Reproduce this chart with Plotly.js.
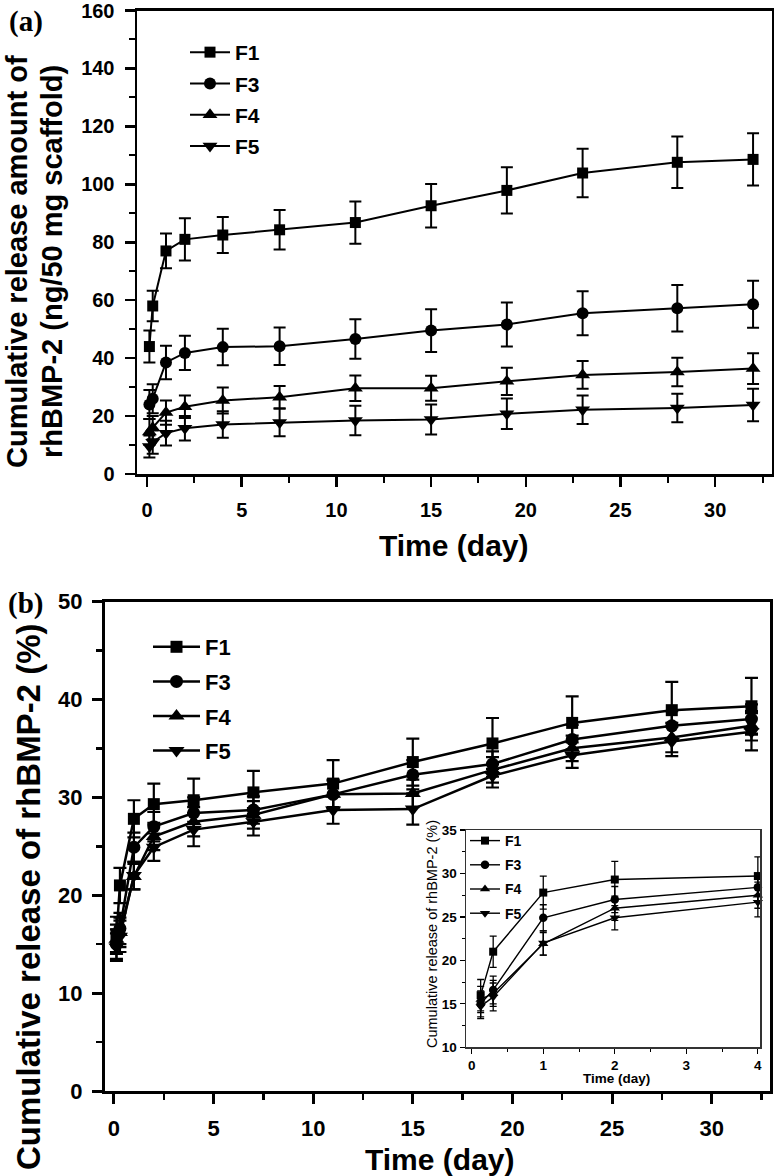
<!DOCTYPE html>
<html>
<head>
<meta charset="utf-8">
<script src="https://cdn.plot.ly/plotly-3.0.1.min.js"></script>
<style>html,body{margin:0;padding:0;background:#fff;}#chart{width:774px;height:1176px;}</style>
</head>
<body>
<div id="chart"></div>
<script>
// ---- data ----
const days = [0.125, 0.3, 1, 2, 4, 7, 11, 15, 19, 23, 28, 32];
const seriesNames = ["F1", "F3", "F4", "F5"];

// (a) cumulative release amount (ng/50 mg scaffold)
const F1_amount = [44, 58, 77, 81, 82.5, 84.3, 86.8, 92.6, 97.9, 103.9, 107.6, 108.6];
const F1_amount_err = [5.5, 5.3, 6, 7.3, 6.2, 6.8, 7.3, 7.5, 8, 8.4, 8.9, 9];
const F3_amount = [24, 26, 38.5, 41.8, 43.8, 44.1, 46.6, 49.5, 51.6, 55.5, 57.2, 58.6];
const F3_amount_err = [5, 5, 5.8, 5.9, 6.3, 6.5, 6.8, 7.4, 7.6, 7.6, 8, 8.1];
const F4_amount = [14.5, 16, 21.2, 23.2, 25.4, 26.5, 29.6, 29.6, 32, 34.2, 35.2, 36.4];
const F4_amount_err = [4.5, 4, 4.2, 3.9, 4.5, 3.9, 4.4, 4.3, 4.7, 4.8, 4.9, 5.3];
const F5_amount = [9.5, 11, 14.1, 15.8, 17.1, 17.8, 18.5, 18.8, 20.8, 22.2, 22.8, 23.8];
const F5_amount_err = [3.8, 4, 4.3, 4.2, 4.6, 4.8, 5.1, 5.2, 5.3, 4.9, 4.9, 5.6];

// (b) cumulative release (%)
const F1_pct = [16.0, 21.0, 27.8, 29.3, 29.7, 30.5, 31.4, 33.6, 35.5, 37.6, 38.9, 39.3];
const F1_pct_err = [1.8, 1.8, 1.9, 2.1, 2.2, 2.2, 2.4, 2.4, 2.6, 2.7, 2.9, 2.9];
const F3_pct = [15.0, 16.6, 24.9, 27.0, 28.4, 28.7, 30.3, 32.3, 33.4, 35.9, 37.3, 38.0];
const F3_pct_err = [1.5, 1.6, 1.5, 1.5, 1.6, 1.4, 1.5, 1.5, 1.3, 1.5, 1.5, 1.5];
const F4_pct = [15.5, 16.2, 21.9, 26.0, 27.5, 28.2, 30.3, 30.4, 32.8, 35.0, 36.1, 37.3];
const F4_pct_err = [1.5, 1.5, 1.3, 1.4, 1.5, 1.4, 1.4, 1.4, 1.3, 1.3, 1.5, 1.5];
const F5_pct = [14.7, 15.8, 22.0, 24.9, 26.7, 27.5, 28.7, 28.8, 32.2, 34.3, 35.7, 36.7];
const F5_pct_err = [1.4, 1.6, 1.4, 1.4, 1.7, 1.4, 1.4, 1.6, 1.2, 1.3, 1.5, 1.9];

// inset shows the first days (0 - 4 day)
const insetCount = 5;

// ---- styling helpers ----
const W = 774, H = 1176;
const px = v => v / W;
const py = v => 1 - v / H;
const FONT = "Liberation Sans, Arial, sans-serif";
const SERIF = "Liberation Serif, Times New Roman, serif";
const symbols = ["square", "circle", "triangle-up", "triangle-down"];

function trace(x, y, err, i, xa, ya, leg, st) {
  return {
    type: "scatter", mode: "lines+markers",
    x: x, y: y, name: seriesNames[i],
    xaxis: xa, yaxis: ya, legend: leg, legendgroup: leg + i,
    line: {color: "#000", width: st.lw},
    marker: {symbol: symbols[i], color: "#000", size: st.ms[i], line: {width: 0}},
    error_y: {type: "data", array: err, visible: true, color: "#000", thickness: st.et, width: st.ew},
    cliponaxis: false
  };
}

const amounts = [F1_amount, F3_amount, F4_amount, F5_amount];
const amountErr = [F1_amount_err, F3_amount_err, F4_amount_err, F5_amount_err];
const pcts = [F1_pct, F3_pct, F4_pct, F5_pct];
const pctErr = [F1_pct_err, F3_pct_err, F4_pct_err, F5_pct_err];

const stA = {lw: 2, ms: [11, 12, 13, 13], et: 2, ew: 6};
const stB = {lw: 2.5, ms: [12, 13, 14, 14], et: 2.2, ew: 6.5};
const stI = {lw: 1.4, ms: [8, 8.5, 9, 9], et: 1.3, ew: 3.5};

const data = [];
for (let i = 0; i < 4; i++) data.push(trace(days, amounts[i], amountErr[i], i, "x", "y", "legend", stA));
for (let i = 0; i < 4; i++) data.push(trace(days, pcts[i], pctErr[i], i, "x2", "y2", "legend2", stB));
for (let i = 0; i < 4; i++) data.push(trace(days.slice(0, insetCount), pcts[i].slice(0, insetCount),
  pctErr[i].slice(0, insetCount), i, "x3", "y3", "legend3", stI));

function axis(o) {
  return Object.assign({
    showgrid: false, zeroline: false, showline: true, linecolor: "#000", mirror: true,
    ticks: "outside", tickcolor: "#000", fixedrange: true, ticklabeloverflow: "allow"
  }, o);
}
const tfA = {family: FONT, size: 20, color: "#000", weight: "bold"};
const tfB = {family: FONT, size: 22, color: "#000", weight: "bold"};
const tfI = {family: FONT, size: 13.5, color: "#000", weight: "bold"};

const layout = {
  width: W, height: H,
  margin: {l: 0, r: 0, t: 0, b: 0},
  paper_bgcolor: "#fff", plot_bgcolor: "rgba(0,0,0,0)",
  showlegend: true,
  xaxis: axis({domain: [px(137), px(772)], anchor: "y", range: [-0.53, 33.0], tick0: 0, dtick: 5,
    linewidth: 2.5, ticklen: 10, tickwidth: 2.5, tickfont: tfA, ticklabelstandoff: 6,
    minor: {dtick: 2.5, ticks: "outside", ticklen: 6, tickwidth: 2, tickcolor: "#000"}}),
  yaxis: axis({domain: [py(474), py(10.5)], anchor: "x", range: [0, 160], dtick: 20,
    linewidth: 2.5, ticklen: 10, tickwidth: 2.5, tickfont: tfA, ticklabelstandoff: 6,
    minor: {dtick: 10, ticks: "outside", ticklen: 6, tickwidth: 2, tickcolor: "#000"}}),
  xaxis2: axis({domain: [px(105), px(770)], anchor: "y2", range: [-0.45, 32.93], tick0: 0, dtick: 5,
    linewidth: 3, ticklen: 10, tickwidth: 3, tickfont: tfB, ticklabelstandoff: 6,
    minor: {dtick: 2.5, ticks: "outside", ticklen: 6, tickwidth: 2.5, tickcolor: "#000"}}),
  yaxis2: axis({domain: [py(1091), py(601.5)], anchor: "x2", range: [0, 50], dtick: 10,
    linewidth: 3, ticklen: 10, tickwidth: 3, tickfont: tfB, ticklabelstandoff: 5,
    minor: {dtick: 5, ticks: "outside", ticklen: 6, tickwidth: 2.5, tickcolor: "#000"}}),
  xaxis3: axis({domain: [px(466), px(760)], anchor: "y3", range: [-0.08, 4.03], tick0: 0, dtick: 1,
    linewidth: 1.5, linecolor: "#333", ticklen: 5, tickwidth: 1.3, tickfont: tfI,
    minor: {dtick: 0.5, ticks: "outside", ticklen: 3, tickwidth: 1, tickcolor: "#000"}}),
  yaxis3: axis({domain: [py(1047.3), py(830)], anchor: "x3", range: [10, 35], dtick: 5,
    linewidth: 1.5, linecolor: "#333", ticklen: 5, tickwidth: 1.3, tickfont: tfI,
    minor: {dtick: 2.5, ticks: "outside", ticklen: 3, tickwidth: 1, tickcolor: "#000"}}),
  legend: {x: px(185), y: py(32), xanchor: "left", yanchor: "top", bgcolor: "rgba(0,0,0,0)",
    font: {family: FONT, size: 21, color: "#000", weight: "bold"}, tracegroupgap: 1, itemwidth: 40, itemsizing: "trace"},
  legend2: {x: px(148), y: py(626), xanchor: "left", yanchor: "top", bgcolor: "rgba(0,0,0,0)",
    font: {family: FONT, size: 22, color: "#000", weight: "bold"}, tracegroupgap: 3, itemwidth: 47, itemsizing: "trace"},
  legend3: {x: px(465), y: py(825), xanchor: "left", yanchor: "top", bgcolor: "rgba(0,0,0,0)",
    font: {family: FONT, size: 14, color: "#000", weight: "bold"}, tracegroupgap: 3, itemsizing: "trace"},
  annotations: [
    {text: "(a)", x: px(7), y: py(22), xanchor: "left", yanchor: "middle",
      font: {family: SERIF, size: 29, weight: "bold", color: "#000"}},
    {text: "(b)", x: px(6), y: py(603), xanchor: "left", yanchor: "middle",
      font: {family: SERIF, size: 29, weight: "bold", color: "#000"}},
    {text: "Cumulative release amount of", x: px(17), y: py(262), textangle: -90, xanchor: "center", yanchor: "middle",
      font: {family: FONT, size: 29, weight: "bold", color: "#000"}},
    {text: "rhBMP-2 (ng/50 mg scaffold)", x: px(52), y: py(262), textangle: -90, xanchor: "center", yanchor: "middle",
      font: {family: FONT, size: 29, weight: "bold", color: "#000"}},
    {text: "Time (day)", x: px(454), y: py(545), xanchor: "center", yanchor: "middle",
      font: {family: FONT, size: 30, weight: "bold", color: "#000"}},
    {text: "Cumulative release of rhBMP-2 (%)", x: px(28), y: py(897), textangle: -90, xanchor: "center", yanchor: "middle",
      font: {family: FONT, size: 33, weight: "bold", color: "#000"}},
    {text: "Time (day)", x: px(440), y: py(1159), xanchor: "center", yanchor: "middle",
      font: {family: FONT, size: 30, weight: "bold", color: "#000"}},
    {text: "Cumulative release of rhBMP-2 (%)", x: px(432), y: py(934), textangle: -90, xanchor: "center", yanchor: "middle",
      font: {family: FONT, size: 14.5, color: "#000"}},
    {text: "Time (day)", x: px(616), y: py(1078), xanchor: "center", yanchor: "middle",
      font: {family: FONT, size: 13.5, weight: "bold", color: "#000"}}
  ].map(a => Object.assign({xref: "paper", yref: "paper", showarrow: false}, a))
};

Plotly.newPlot("chart", data, layout, {staticPlot: true, displayModeBar: false});
</script>
</body>
</html>
